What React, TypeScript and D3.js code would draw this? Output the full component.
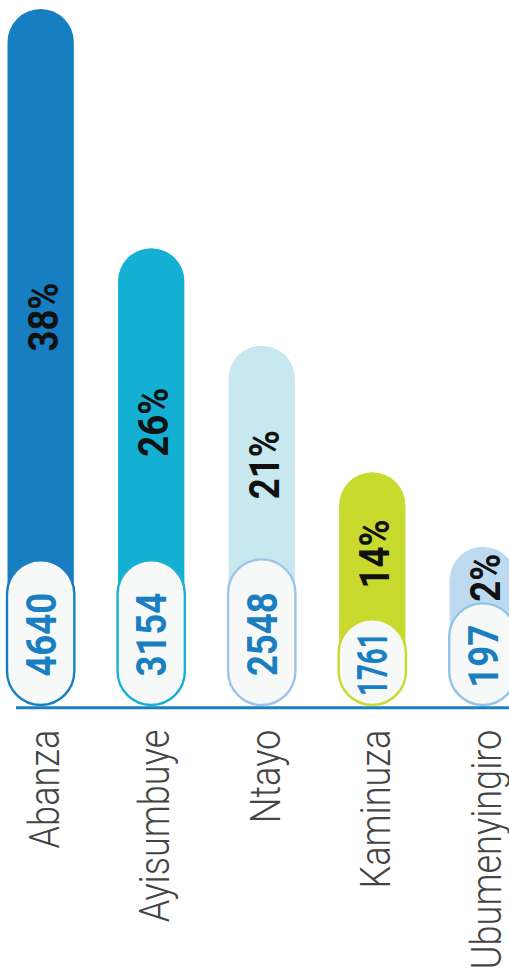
import React from "react";
import * as d3 from "d3";

// ---- data ----
const categories = ["Abanza", "Ayisumbuye", "Ntayo", "Kaminuza", "Ubumenyingiro"];
const counts = [4640, 3154, 2548, 1761, 197];
const percents = [38, 26, 21, 14, 2];

// ---- styles ----
const BAR_COLORS = ["#177ec1", "#13b0d4", "#c7e8ee", "#c8da2d", "#bddaf0"];
const PILL_STROKES = ["#1a7fc1", "#1ab0d4", "#9dc3e9", "#c8da2d", "#8ec5e8"];
const PILL_LENGTHS = [147, 147, 148, 88, 104];

const W = 509;
const H = 973;
const AXIS_Y = 707.7;
const TOP = 9;
const ZERO_BELOW = 48; // value 0 sits hidden below the axis, behind the pills
const MIN_BAR = 161;
const NUM_FONT = "Roboto, 'DejaVu Sans', sans-serif";
const NUM_SIZE = 42;
const NUM_SQUEEZE = 0.87;

export default function App() {
  const x = d3
    .scaleBand<string>()
    .domain(categories)
    .range([7.5, 516])
    .paddingInner(0.4)
    .paddingOuter(0);

  const y = d3
    .scaleLinear()
    .domain([0, d3.max(counts) as number])
    .range([AXIS_Y + ZERO_BELOW, TOP]);

  const bw = x.bandwidth();
  const r = bw / 2;
  const pw = bw + 1;
  const sw = 2.4;

  const pillGeom = (i: number) => {
    const outerTop = AXIS_Y - 1.5 - PILL_LENGTHS[i];
    const top = outerTop + sw / 2;
    const h = PILL_LENGTHS[i] - sw;
    return { outerTop, top, h };
  };

  return (
    <svg
      width={W}
      height={H}
      style={{ position: "absolute", left: 0, top: 0, background: "#fff" }}
    >
      {categories.map((c, i) => {
        const x0 = x(c) as number;
        const cx = x0 + bw / 2;
        const barTop = Math.min(y(counts[i]), AXIS_Y - MIN_BAR);
        const { top, h } = pillGeom(i);
        const bottom = top + h / 2;
        const p = d3.path();
        p.moveTo(x0, bottom);
        p.lineTo(x0, barTop + r);
        p.arc(cx, barTop + r, r, Math.PI, 2 * Math.PI);
        p.lineTo(x0 + bw, bottom);
        p.closePath();
        return <path key={"b" + c} d={p.toString()} fill={BAR_COLORS[i]} />;
      })}

      {categories.map((c, i) => {
        const x0 = x(c) as number;
        const cx = x0 + bw / 2;
        const { top, h } = pillGeom(i);
        const label = String(counts[i]);
        const natural = label.length * 0.562 * NUM_SIZE;
        const room = (h - 22) / NUM_SQUEEZE;
        const fit = natural > room ? room : undefined;
        return (
          <g key={"p" + c}>
            <rect
              x={cx - pw / 2}
              y={top}
              width={pw}
              height={h}
              rx={pw / 2}
              ry={pw / 2}
              fill="#f7f9f9"
              stroke={PILL_STROKES[i]}
              strokeWidth={sw}
            />
            <text
              transform={`translate(${cx},${top + h / 2 + 2}) rotate(-90) scale(${NUM_SQUEEZE},1)`}
              textAnchor="middle"
              dy="0.355em"
              fontFamily={NUM_FONT}
              fontWeight={700}
              fontSize={NUM_SIZE}
              fill="#1a7fc1"
              textLength={fit}
              lengthAdjust={fit ? "spacingAndGlyphs" : undefined}
            >
              {label}
            </text>
          </g>
        );
      })}

      <line
        x1={(x.range()[0] as number) + 8.5}
        x2={W}
        y1={AXIS_Y}
        y2={AXIS_Y}
        stroke="#1a7fc1"
        strokeWidth={3}
      />

      {categories.map((c, i) => {
        const x0 = x(c) as number;
        const cx = x0 + bw / 2;
        const barTop = Math.min(y(counts[i]), AXIS_Y - MIN_BAR);
        const { outerTop } = pillGeom(i);
        const cy = barTop + 0.56 * (outerTop - barTop);
        return (
          <text
            key={"t" + c}
            transform={`translate(${cx + 2},${cy}) rotate(-90) scale(${NUM_SQUEEZE},1)`}
            textAnchor="middle"
            dy="0.355em"
            fontFamily={NUM_FONT}
            fontWeight={700}
            fontSize={NUM_SIZE}
            fill="#111"
          >
            {percents[i] + "%"}
          </text>
        );
      })}

      {categories.map((c) => {
        const x0 = x(c) as number;
        const cx = x0 + bw / 2;
        return (
          <text
            key={"l" + c}
            transform={`translate(${cx + 3},${AXIS_Y + 22}) rotate(-90) scale(0.86,1)`}
            textAnchor="end"
            dy="0.355em"
            fontFamily="Roboto, 'DejaVu Sans', sans-serif"
            fontWeight={300}
            fontSize={42}
            fill="#444"
          >
            {c}
          </text>
        );
      })}
    </svg>
  );
}
